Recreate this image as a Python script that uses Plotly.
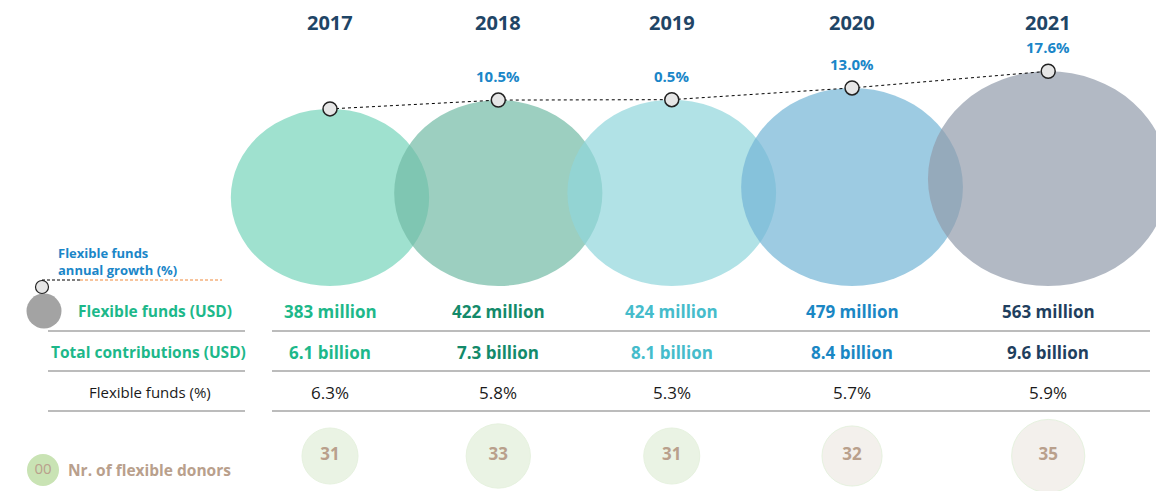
import numpy as np
import plotly.graph_objects as go

# data
years = ["2017", "2018", "2019", "2020", "2021"]
flex_funds = [383, 422, 424, 479, 563]        # USD million
total_contrib = [6.1, 7.3, 8.1, 8.4, 9.6]     # USD billion
flex_share = [6.3, 5.8, 5.3, 5.7, 5.9]        # %
growth = [None, 10.5, 0.5, 13.0, 17.6]        # % annual growth of flexible funds
donors = [31, 33, 31, 32, 35]

circle_fill = ["#76d4ba", "#72baa5", "#90d6db", "#74b5d6", "#929bab"]
value_color = ["#1db88a", "#138a6a", "#45bccb", "#1a87c4", "#1f3f5e"]
donor_fill = ["#e2efd9", "#e2efd9", "#e2efd9", "#eeebe5", "#eeebe5"]

FONT = "Open Sans"
W, H = 1156, 491
NAVY = "#1f4566"
BLUE = "#1a86c8"
GREEN = "#1db88a"
TAN = "#b9a08c"
GRID = "#a6a6a6"

# bubble geometry (axis units == pixels)
heights = 9.05 * np.sqrt(flex_funds)
widths = 1.12 * heights
bottom = 286
overlap = 35
cx = [330.0]
for i in range(1, len(years)):
    cx.append(cx[-1] + widths[i - 1] / 2 + widths[i] / 2 - overlap)
tops = bottom - heights

fig = go.Figure()
shapes = []
for i in range(len(years)):
    shapes.append(dict(type="circle", xref="x", yref="y",
                       x0=cx[i] - widths[i] / 2, x1=cx[i] + widths[i] / 2,
                       y0=tops[i], y1=bottom,
                       fillcolor=circle_fill[i], opacity=0.7,
                       line=dict(width=0), layer="below"))

# table rules
for y in [331, 371, 411]:
    shapes.append(dict(type="line", xref="x", yref="y", x0=48, x1=245, y0=y, y1=y,
                       line=dict(color=GRID, width=1.5)))
    shapes.append(dict(type="line", xref="x", yref="y", x0=272, x1=1150, y0=y, y1=y,
                       line=dict(color=GRID, width=1.5)))

# legend dashed lines
shapes.append(dict(type="line", xref="x", yref="y", x0=42, x1=80, y0=280, y1=280,
                   line=dict(color="black", width=1.2, dash="3px,2px")))
shapes.append(dict(type="line", xref="x", yref="y", x0=80, x1=222, y0=280, y1=280,
                   line=dict(color="#f08a3c", width=1.2, dash="3px,2px")))

# growth line through bubble tops
fig.add_trace(go.Scatter(
    x=cx, y=tops, mode="lines+markers",
    line=dict(color="black", width=1, dash="dot"),
    marker=dict(size=14, color="#e6e6e6", line=dict(color="#222222", width=1.5)),
    hoverinfo="skip", showlegend=False))

# donor bubbles
donor_sizes = [56 * (n / 31) ** 2.2 for n in donors]
fig.add_trace(go.Scatter(
    x=cx, y=[456] * len(donors), mode="markers+text",
    text=[f"<b>{n}</b>" for n in donors], textposition="middle center",
    textfont=dict(family=FONT, size=17, color=TAN),
    marker=dict(size=donor_sizes, color=donor_fill,
                line=dict(color="#dcecd2", width=1)),
    hoverinfo="skip", showlegend=False))

# legend markers
fig.add_trace(go.Scatter(
    x=[44], y=[311], mode="markers",
    marker=dict(size=35, color="#a3a3a3", line=dict(width=0)),
    hoverinfo="skip", showlegend=False))
fig.add_trace(go.Scatter(
    x=[42], y=[287], mode="markers",
    marker=dict(size=13, color="#e6e6e6", line=dict(color="#222222", width=1.2)),
    hoverinfo="skip", showlegend=False))
fig.add_trace(go.Scatter(
    x=[43], y=[470], mode="markers+text", text=["00"],
    textposition="middle center", textfont=dict(family=FONT, size=15, color=TAN),
    marker=dict(size=32, color="#c9e3b4", line=dict(width=0)),
    hoverinfo="skip", showlegend=False))

ann = []
def label(x, y, text, size, color, xanchor="center", yshift=0, align="center"):
    ann.append(dict(x=x, y=y, xref="x", yref="y", text=text, showarrow=False,
                    xanchor=xanchor, yanchor="middle", yshift=yshift, align=align,
                    font=dict(family=FONT, size=size, color=color)))

for i, yr in enumerate(years):
    label(cx[i], 22, f"<b>{yr}</b>", 20, NAVY)
    if growth[i] is not None:
        label(cx[i], tops[i], f"<b>{growth[i]:.1f}%</b>", 15, BLUE, yshift=24)
    label(cx[i], 311, f"<b>{flex_funds[i]} million</b>", 17, value_color[i])
    label(cx[i], 352, f"<b>{total_contrib[i]:.1f} billion</b>", 17, value_color[i])
    label(cx[i], 392, f"{flex_share[i]:.1f}%", 17, "#1a1a1a")

# row labels
label(56, 261, "<b>Flexible funds<br>annual growth (%)</b>", 13, BLUE,
      xanchor="left", align="left")
label(155, 311, "<b>Flexible funds (USD)</b>", 15.5, GREEN)
label(148, 352, "<b>Total contributions (USD)</b>", 15.5, GREEN)
label(150, 392, "Flexible funds (%)", 15, "#1a1a1a")
label(66, 470, "<b>Nr. of flexible donors</b>", 15.5, TAN, xanchor="left")

fig.update_layout(
    width=W, height=H, margin=dict(l=0, r=0, t=0, b=0),
    paper_bgcolor="white", plot_bgcolor="white",
    xaxis=dict(range=[0, W], visible=False, fixedrange=True),
    yaxis=dict(range=[H, 0], visible=False, fixedrange=True),
    shapes=shapes, annotations=ann, showlegend=False)

fig.write_html("out.html", config={"displayModeBar": False},
               post_script="document.body.style.margin='0';")
